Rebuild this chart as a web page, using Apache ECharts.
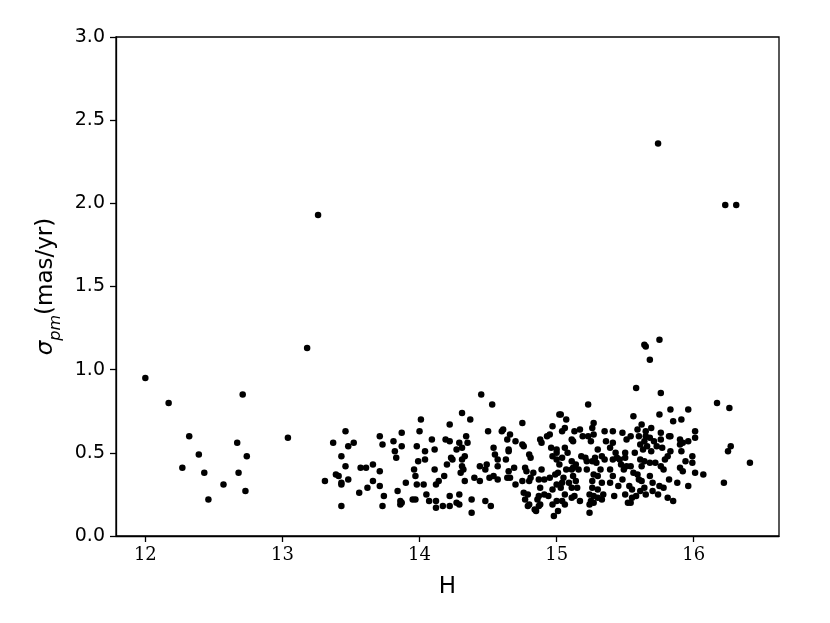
<!DOCTYPE html>
<html>
<head>
<meta charset="utf-8">
<script src="https://cdn.jsdelivr.net/npm/echarts@6/dist/echarts.min.js"></script>
<style>
  html, body { margin: 0; padding: 0; background: #fff; }
  #chart { width: 830px; height: 623px; }
</style>
</head>
<body>
<div id="chart"></div>
<script>
// H magnitude and proper-motion error
var hValues = [
    13.26, 15.74, 16.23, 16.31, 13.18, 15.64, 15.65, 15.75, 15.68,
    12.00, 12.17, 12.71, 12.32, 13.04, 12.67, 12.39, 12.74, 12.27, 12.43, 12.68, 12.57, 12.73, 12.46,
    13.31, 13.37, 13.43, 13.46, 13.48, 13.52, 13.46, 13.39, 13.41, 13.43, 13.43, 13.48, 13.43, 13.57,
    13.61, 13.66, 13.56, 13.62, 13.66, 13.71, 13.73, 13.71, 13.71, 13.74, 13.73, 13.81, 13.87, 13.87,
    13.82, 13.83, 13.84, 13.90, 13.86, 13.86, 13.87, 14.01, 14.00, 13.98, 14.04, 14.04, 13.99, 13.96,
    13.97, 13.98, 14.03, 14.05, 13.95, 13.97, 14.07, 14.09, 14.11, 14.11, 14.12, 14.14, 14.12, 14.12,
    14.45, 14.53, 14.31, 14.37, 14.22, 14.75, 15.02, 14.97, 14.50, 14.60, 14.61, 14.66, 14.19, 14.22,
    14.34, 14.35, 14.29, 14.27, 14.31, 14.64, 14.70, 14.75, 14.76, 14.88, 14.93, 14.95, 14.54, 14.55,
    14.65, 14.65, 14.89, 14.96, 15.00, 14.23, 14.24, 14.33, 14.31, 14.31, 14.20, 14.32, 14.30, 14.18,
    14.44, 14.49, 14.48, 14.57, 14.57, 14.63, 14.80, 14.81, 14.97, 15.00, 15.00, 14.69, 14.77, 14.78,
    14.65, 14.64, 14.66, 14.40, 14.44, 14.33, 14.51, 14.54, 14.57, 14.70, 14.75, 14.81, 14.83, 14.80,
    14.89, 14.87, 14.91, 14.95, 14.99, 15.01, 15.00, 14.22, 14.29, 14.17, 14.22, 14.27, 14.29, 14.38,
    14.38, 14.48, 14.52, 14.76, 14.79, 14.77, 14.88, 14.87, 14.91, 14.94, 14.97, 14.86, 14.79, 14.80,
    14.84, 14.85, 14.87, 14.88, 14.97, 14.98, 15.01, 15.00,
    15.23, 15.03, 15.07, 15.27, 15.06, 15.04, 15.13, 15.17, 15.26, 15.35, 15.41, 15.48, 15.19, 15.23,
    15.27, 15.11, 15.12, 15.25, 15.36, 15.41, 15.51, 15.06, 15.08, 15.30, 15.39, 15.43, 15.50, 15.04,
    15.11, 15.18, 15.21, 15.28, 15.33, 15.35, 15.41, 15.44, 15.46, 15.50, 15.02, 15.07, 15.12, 15.14,
    15.22, 15.26, 15.29, 15.47, 15.51, 15.11, 15.16, 15.22, 15.32, 15.39, 15.49, 15.05, 15.12, 15.27,
    15.30, 15.41, 15.48, 15.04, 15.09, 15.14, 15.26, 15.33, 15.39, 15.45, 15.53, 15.03, 15.11, 15.15,
    15.26, 15.30, 15.06, 15.13, 15.24, 15.27, 15.34, 15.42, 15.50, 15.04, 15.11, 15.17, 15.25, 15.30,
    15.33, 15.06, 15.24, 15.27, 15.24, 15.52,
    15.58, 15.76, 15.83, 15.96, 15.75, 15.56, 15.85, 15.91, 15.62, 15.69, 15.59, 15.65, 15.76, 16.01,
    15.54, 15.60, 15.65, 15.68, 15.82, 15.83, 15.90, 16.01, 15.96, 15.71, 15.76, 15.61, 15.64, 15.66,
    15.63, 15.73, 15.77, 15.90, 15.92, 15.69, 15.83, 15.91, 15.57, 15.99, 15.81, 15.79, 15.61, 15.94,
    15.99, 15.64, 15.68, 15.72, 15.54, 15.62, 15.76, 15.78, 15.90, 15.92, 16.01, 15.56, 15.59, 15.68,
    15.60, 15.62, 15.70, 15.82, 15.88, 15.96, 15.55, 15.64, 15.75, 15.78, 15.61, 15.65, 15.70, 15.74,
    15.55, 15.58, 15.54, 15.81, 15.85,
    16.17, 16.26, 16.27, 16.25, 16.41, 16.07, 16.22
];
var sigmaValues = [
    1.93, 2.36, 1.99, 1.99, 1.13, 1.15, 1.14, 1.18, 1.06,
    0.95, 0.80, 0.85, 0.60, 0.59, 0.56, 0.49, 0.48, 0.41, 0.38, 0.38, 0.31, 0.27, 0.22,
    0.33, 0.56, 0.48, 0.63, 0.54, 0.56, 0.42, 0.37, 0.36, 0.32, 0.31, 0.34, 0.18, 0.41,
    0.41, 0.43, 0.26, 0.29, 0.33, 0.60, 0.55, 0.39, 0.30, 0.24, 0.18, 0.57, 0.62, 0.54,
    0.51, 0.47, 0.27, 0.32, 0.21, 0.19, 0.20, 0.70, 0.63, 0.54, 0.51, 0.46, 0.45, 0.40,
    0.36, 0.31, 0.31, 0.25, 0.22, 0.22, 0.21, 0.58, 0.52, 0.40, 0.31, 0.33, 0.21, 0.17,
    0.85, 0.79, 0.74, 0.70, 0.67, 0.68, 0.73, 0.66, 0.63, 0.63, 0.64, 0.61, 0.58, 0.57,
    0.60, 0.56, 0.56, 0.52, 0.53, 0.58, 0.57, 0.55, 0.54, 0.58, 0.60, 0.61, 0.53, 0.49,
    0.52, 0.51, 0.56, 0.53, 0.52, 0.47, 0.46, 0.48, 0.46, 0.42, 0.43, 0.40, 0.38, 0.36,
    0.42, 0.43, 0.40, 0.46, 0.42, 0.46, 0.49, 0.47, 0.48, 0.50, 0.46, 0.41, 0.41, 0.39,
    0.39, 0.35, 0.35, 0.35, 0.33, 0.33, 0.35, 0.36, 0.34, 0.31, 0.33, 0.35, 0.38, 0.33,
    0.40, 0.34, 0.34, 0.35, 0.37, 0.38, 0.31, 0.24, 0.25, 0.18, 0.18, 0.20, 0.19, 0.22,
    0.14, 0.21, 0.18, 0.26, 0.25, 0.22, 0.29, 0.24, 0.25, 0.24, 0.28, 0.22, 0.18, 0.19,
    0.16, 0.15, 0.18, 0.19, 0.19, 0.12, 0.15, 0.21,
    0.79, 0.73, 0.70, 0.68, 0.65, 0.63, 0.63, 0.64, 0.65, 0.63, 0.63, 0.62, 0.60, 0.60,
    0.61, 0.58, 0.57, 0.57, 0.57, 0.56, 0.58, 0.53, 0.50, 0.52, 0.53, 0.50, 0.50, 0.47,
    0.45, 0.48, 0.47, 0.47, 0.48, 0.46, 0.46, 0.47, 0.46, 0.47, 0.43, 0.40, 0.41, 0.43,
    0.45, 0.45, 0.44, 0.43, 0.42, 0.40, 0.40, 0.40, 0.40, 0.40, 0.40, 0.35, 0.36, 0.37,
    0.36, 0.36, 0.34, 0.32, 0.32, 0.33, 0.33, 0.32, 0.32, 0.30, 0.30, 0.29, 0.29, 0.29,
    0.29, 0.28, 0.25, 0.24, 0.25, 0.24, 0.25, 0.24, 0.25, 0.21, 0.23, 0.21, 0.21, 0.23,
    0.22, 0.19, 0.19, 0.20, 0.14, 0.20,
    0.89, 0.86, 0.76, 0.76, 0.73, 0.72, 0.69, 0.70, 0.67, 0.65, 0.64, 0.63, 0.62, 0.63,
    0.60, 0.60, 0.60, 0.59, 0.60, 0.60, 0.58, 0.59, 0.57, 0.57, 0.58, 0.55, 0.57, 0.54,
    0.52, 0.54, 0.53, 0.55, 0.56, 0.51, 0.51, 0.51, 0.50, 0.48, 0.48, 0.46, 0.46, 0.45,
    0.44, 0.45, 0.44, 0.44, 0.42, 0.42, 0.42, 0.40, 0.41, 0.39, 0.38, 0.38, 0.37, 0.36,
    0.34, 0.33, 0.32, 0.34, 0.32, 0.30, 0.28, 0.29, 0.30, 0.29, 0.27, 0.25, 0.27, 0.25,
    0.23, 0.24, 0.20, 0.23, 0.21,
    0.80, 0.77, 0.54, 0.51, 0.44, 0.37, 0.32
];
var xTicks = [12, 13, 14, 15, 16];

var points = [];
for (var i = 0; i < hValues.length; i++) {
    points.push([hValues[i], sigmaValues[i]]);
}

var myChart = echarts.init(document.getElementById('chart'));
var option = {
    animation: false,
    backgroundColor: '#fff',
    grid: {
        left: 116,
        right: 51,
        top: 37,
        bottom: 87,
        show: true,
        borderColor: '#000',
        borderWidth: 1.3,
        backgroundColor: 'transparent'
    },
    xAxis: {
        type: 'value',
        min: 11.786,
        max: 16.622,
        name: 'H',
        nameLocation: 'middle',
        nameGap: 40,
        nameTextStyle: { fontFamily: 'DejaVu Sans', fontSize: 23, color: '#000' },
        splitLine: { show: false },
        axisLine: { show: true, onZero: false, lineStyle: { color: '#000', width: 1.3 } },
        axisTick: { show: true, inside: false, length: 6, customValues: xTicks, lineStyle: { color: '#000', width: 1.3 } },
        axisLabel: {
            customValues: xTicks,
            margin: 10,
            fontFamily: 'DejaVu Serif',
            fontSize: 18,
            color: '#000'
        }
    },
    yAxis: {
        type: 'value',
        min: 0,
        max: 3,
        interval: 0.5,
        name: '{s|σ}{sub|pm}(mas/yr)',
        nameLocation: 'middle',
        nameGap: 48,
        nameTextStyle: {
            fontFamily: 'DejaVu Sans',
            fontSize: 23,
            color: '#000',
            rich: {
                s: { fontFamily: 'DejaVu Sans', fontStyle: 'italic', fontSize: 23, color: '#000' },
                sub: { fontFamily: 'DejaVu Sans', fontStyle: 'italic', fontSize: 16, color: '#000', verticalAlign: 'bottom', padding: [0, 0, -6, 0] }
            }
        },
        splitLine: { show: false },
        axisLine: { show: true, onZero: false, lineStyle: { color: '#000', width: 1.3 } },
        axisTick: { show: true, inside: false, length: 6, lineStyle: { color: '#000', width: 1.3 } },
        axisLabel: {
            margin: 11,
            fontFamily: 'DejaVu Sans',
            fontSize: 19,
            color: '#000',
            formatter: function (v) { return v.toFixed(1); }
        }
    },
    series: [
        {
            type: 'scatter',
            data: points,
            symbol: 'circle',
            symbolSize: 6.5,
            itemStyle: { color: '#000', opacity: 1 }
        }
    ]
};
myChart.setOption(option);
</script>
</body>
</html>
